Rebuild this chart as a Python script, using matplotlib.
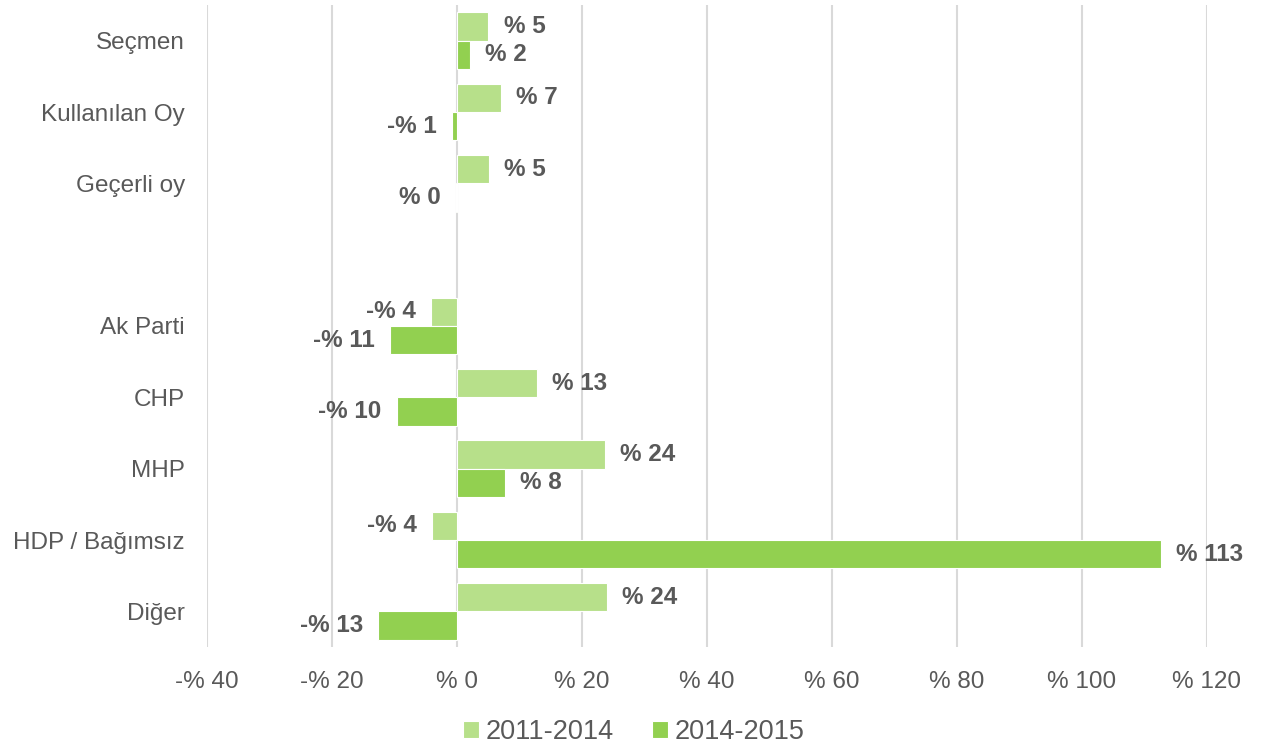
import matplotlib.pyplot as plt
import numpy as np

# categories top to bottom, the empty one is a spacer row
categories = ["Seçmen", "Kullanılan Oy", "Geçerli oy", "", "Ak Parti", "CHP", "MHP",
              "HDP / Bağımsız", "Diğer"]
series_names = ["2011-2014", "2014-2015"]
change_2011_2014 = [5.0, 7.0, 5.1, np.nan, -4.2, 12.8, 23.7, -4.0, 24.0]
change_2014_2015 = [2.1, -0.8, -0.2, np.nan, -10.7, -9.6, 7.7, 112.6, -12.6]
xticks = [-40, -20, 0, 20, 40, 60, 80, 100, 120]

colors = ["#B7E08A", "#92D050"]
text_gray = "#595959"
tick_font = ["Liberation Sans", "DejaVu Sans"]


def pct(v):
    r = int(round(v))
    return "-%% %d" % abs(r) if r < 0 else "%% %d" % r


fig = plt.figure(figsize=(12.68, 7.51), dpi=100)
ax = fig.add_axes([207 / 1268, 1 - 647 / 751, 1000 / 1268, 642 / 751])

y = np.arange(len(categories))
h = 0.395
for i, vals in enumerate([change_2011_2014, change_2014_2015]):
    pos = y - h / 2 + i * h
    vals = np.array(vals)
    ok = ~np.isnan(vals)
    ax.barh(pos[ok], vals[ok], height=h, color=colors[i], label=series_names[i],
            edgecolor="white", linewidth=0.8, zorder=2)
    for p, v in zip(pos[ok], vals[ok]):
        off = 11 if v >= 0 else -11
        ax.annotate(pct(v), (v, p), xytext=(off, 0), textcoords="offset points",
                    ha="left" if v >= 0 else "right", va="center", fontsize=17.5,
                    fontweight="bold", color=text_gray, family="Liberation Sans", zorder=3)

ax.set_xlim(-40, 120)
ax.set_ylim(len(categories) - 0.5, -0.5)
ax.set_xticks(xticks)
ax.set_xticklabels([pct(t) for t in xticks], family=tick_font, fontsize=17.5, color=text_gray)
ax.set_yticks(y)
ax.set_yticklabels(categories, family=tick_font, fontsize=17.5, color=text_gray)
ax.tick_params(length=0)
ax.tick_params(axis="x", pad=17)
ax.tick_params(axis="y", pad=16)
ax.grid(axis="x", color="#D9D9D9", linewidth=1.5, zorder=0)
ax.set_axisbelow(True)
for s in ax.spines.values():
    s.set_visible(False)

leg = fig.legend(loc="lower center", bbox_to_anchor=(0.5, -0.025), ncol=2, frameon=False,
                 handlelength=0.6, handleheight=0.6, handletextpad=0.25, columnspacing=1.4,
                 prop={"family": tick_font, "size": 19.5})
for t in leg.get_texts():
    t.set_color(text_gray)

fig.savefig("out.png", dpi=100)
